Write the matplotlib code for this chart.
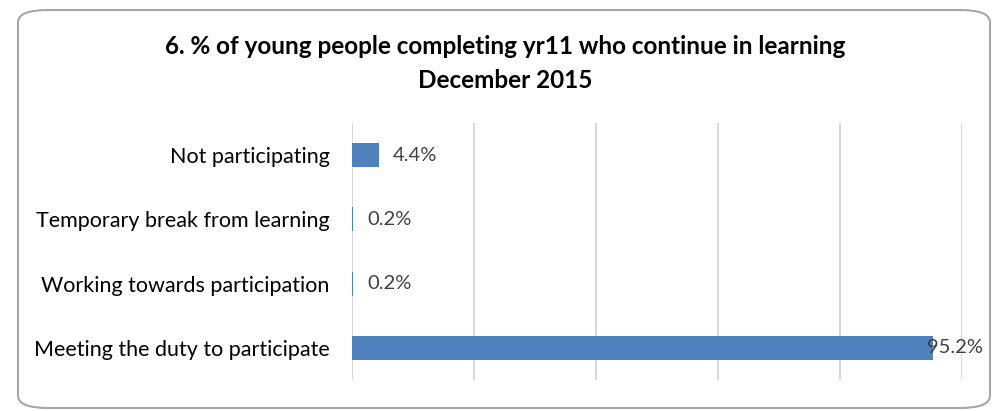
import matplotlib.pyplot as plt
from matplotlib.patches import FancyBboxPatch

plt.rcParams['font.family'] = ['Lato', 'DejaVu Sans']

categories = ["Meeting the duty to participate",
              "Working towards participation",
              "Temporary break from learning",
              "Not participating"]
values = [95.2, 0.2, 0.2, 4.4]
labels = ["95.2%", "0.2%", "0.2%", "4.4%"]

bar_color = "#4F81BD"

fig = plt.figure(figsize=(10.08, 4.11), dpi=100)

# rounded chart border
border = FancyBboxPatch((18 / 1008, 3 / 411), 972 / 1008, 398 / 411,
                        boxstyle="round,pad=0,rounding_size=0.03",
                        transform=fig.transFigure, facecolor="none",
                        edgecolor="#A6A6A6", linewidth=1.5, zorder=0)
fig.patches.append(border)

ax = fig.add_axes([352 / 1008, 31 / 411, 610 / 1008, 257 / 411])
ax.set_facecolor("none")

y = range(len(categories))
ax.barh(y, values, height=0.37, color=bar_color, zorder=2)

for i, (v, lab) in enumerate(zip(values, labels)):
    if v > 90:
        # no room outside the bar: pull the label back inside the plot edge
        ax.annotate(lab, (100, i), xytext=(15, 0), textcoords="offset points",
                    ha="right", va="center", fontsize=14.5, color="#404040",
                    annotation_clip=False)
    else:
        ax.annotate(lab, (v, i), xytext=(10, 0), textcoords="offset points",
                    ha="left", va="center", fontsize=14.5, color="#404040")

ax.set_xlim(0, 100)
ax.set_ylim(-0.5, 3.5)
ax.set_xticks([0, 20, 40, 60, 80, 100])
ax.set_xticklabels([])
ax.tick_params(axis="x", length=0)
ax.tick_params(axis="y", length=0, pad=16, labelsize=15.5, labelcolor="#000000")
ax.set_yticks(list(y))
ax.set_yticklabels(categories)
ax.grid(axis="x", color="#D9D9D9", linewidth=1.5, zorder=0)
for s in ax.spines.values():
    s.set_visible(False)

fig.text(505 / 1008, 1 - 47 / 411,
         "6. % of young people completing yr11 who continue in learning",
         ha="center", va="center", fontsize=17.5, fontweight="bold")
fig.text(505 / 1008, 1 - 80 / 411, "December 2015",
         ha="center", va="center", fontsize=17.5, fontweight="bold")

fig.savefig("out.png", dpi=100)
